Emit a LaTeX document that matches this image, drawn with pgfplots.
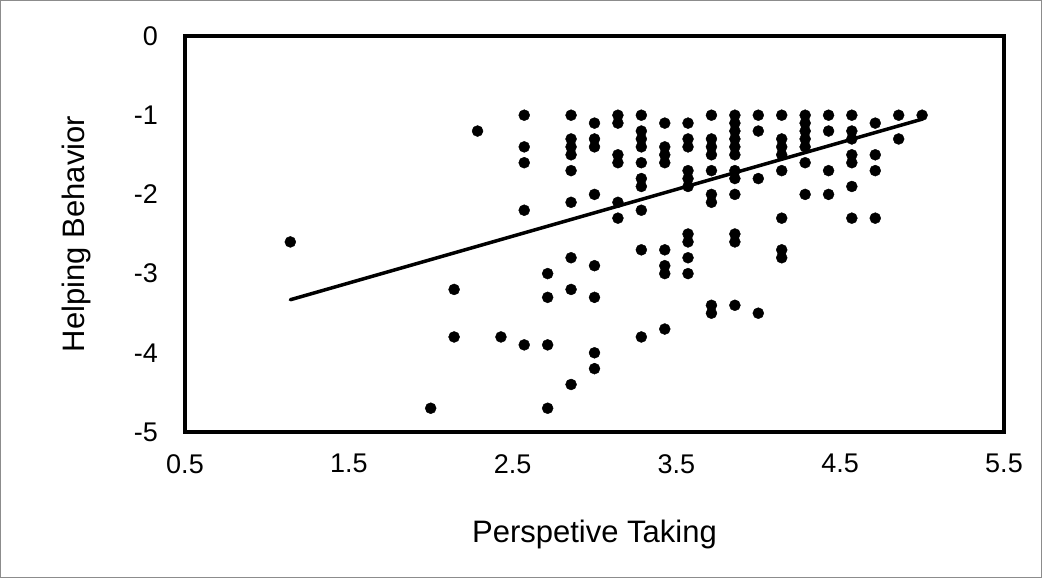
\documentclass[border=0pt]{standalone}
\usepackage{pgfplots}
\pgfplotsset{compat=1.18}
\usepackage{fontspec}
\setmainfont{Liberation Sans}
\begin{document}
\begin{tikzpicture}
\useasboundingbox (0pt,0pt) rectangle (1042pt,578pt);
\draw[line width=1pt, draw=black!45] (0.5pt,0.5pt) rectangle (1041.5pt,577.5pt);
\begin{axis}[
  at={(185pt,146pt)}, anchor=south west,
  scale only axis, width=819pt, height=396pt,
  xmin=0.5, xmax=5.5, ymin=-5, ymax=0,
  xtick={0.5,1.5,2.5,3.5,4.5,5.5},
  xticklabels={0.5,1.5,2.5,3.5,4.5,5.5},
  ytick={-5,-4,-3,-2,-1,0},
  yticklabels={-5,-4,-3,-2,-1,0},
  major tick length=0pt,
  axis line style={line width=3.5pt, line cap=rect},
  tick label style={font=\fontsize{27}{32}\selectfont, inner sep=0pt},
  xticklabel style={anchor=north, yshift=-22pt},
  yticklabel style={anchor=east, xshift=-27pt},
  xlabel={Perspetive Taking},
  ylabel={Helping Behavior},
  label style={font=\fontsize{31}{36}\selectfont, inner sep=0pt},
  xlabel style={at={(axis description cs:0.5,-0.2803)}, anchor=base},
  ylabel style={at={(axis description cs:-0.1233,0.5)}, anchor=base, rotate=0},
  clip=false,
]
\addplot[only marks, mark=*, mark size=5.5pt, mark options={fill=black, draw=black}] coordinates {
(1.143,-2.6)
(2.000,-4.7)
(2.143,-3.2) (2.143,-3.8)
(2.286,-1.2)
(2.429,-3.8)
(2.571,-1) (2.571,-1.4) (2.571,-1.6) (2.571,-2.2) (2.571,-3.9)
(2.714,-3.0) (2.714,-3.3) (2.714,-3.9) (2.714,-4.7)
(2.857,-1) (2.857,-1.3) (2.857,-1.4) (2.857,-1.5) (2.857,-1.7) (2.857,-2.1) (2.857,-2.8) (2.857,-3.2) (2.857,-4.4)
(3.000,-1.1) (3.000,-1.3) (3.000,-1.4) (3.000,-2.0) (3.000,-2.9) (3.000,-3.3) (3.000,-4.0) (3.000,-4.2)
(3.143,-1) (3.143,-1.1) (3.143,-1.5) (3.143,-1.6) (3.143,-2.1) (3.143,-2.3)
(3.286,-1) (3.286,-1.2) (3.286,-1.3) (3.286,-1.4) (3.286,-1.6) (3.286,-1.8) (3.286,-1.9) (3.286,-2.2) (3.286,-2.7) (3.286,-3.8)
(3.429,-1.1) (3.429,-1.4) (3.429,-1.5) (3.429,-1.6) (3.429,-2.7) (3.429,-2.9) (3.429,-3.0) (3.429,-3.7)
(3.571,-1.1) (3.571,-1.3) (3.571,-1.4) (3.571,-1.7) (3.571,-1.8) (3.571,-1.9) (3.571,-2.5) (3.571,-2.6) (3.571,-2.8) (3.571,-3.0)
(3.714,-1) (3.714,-1.3) (3.714,-1.4) (3.714,-1.5) (3.714,-1.7) (3.714,-2.0) (3.714,-2.1) (3.714,-3.4) (3.714,-3.5)
(3.857,-1) (3.857,-1.1) (3.857,-1.2) (3.857,-1.3) (3.857,-1.4) (3.857,-1.5) (3.857,-1.7) (3.857,-1.8) (3.857,-2.0) (3.857,-2.5) (3.857,-2.6) (3.857,-3.4)
(4.000,-1) (4.000,-1.2) (4.000,-1.8) (4.000,-3.5)
(4.143,-1) (4.143,-1.3) (4.143,-1.4) (4.143,-1.5) (4.143,-1.7) (4.143,-2.3) (4.143,-2.7) (4.143,-2.8)
(4.286,-1) (4.286,-1.1) (4.286,-1.2) (4.286,-1.3) (4.286,-1.4) (4.286,-1.6) (4.286,-2.0)
(4.429,-1) (4.429,-1.2) (4.429,-1.7) (4.429,-2.0)
(4.571,-1) (4.571,-1.2) (4.571,-1.3) (4.571,-1.5) (4.571,-1.6) (4.571,-1.9) (4.571,-2.3)
(4.714,-1.1) (4.714,-1.5) (4.714,-1.7) (4.714,-2.3)
(4.857,-1) (4.857,-1.3)
(5.000,-1)
};
\addplot[no marks, black, line width=3.5pt, line cap=round] coordinates {(1.143,-3.33) (5.0,-1.05)};
\end{axis}
\end{tikzpicture}
\end{document}
